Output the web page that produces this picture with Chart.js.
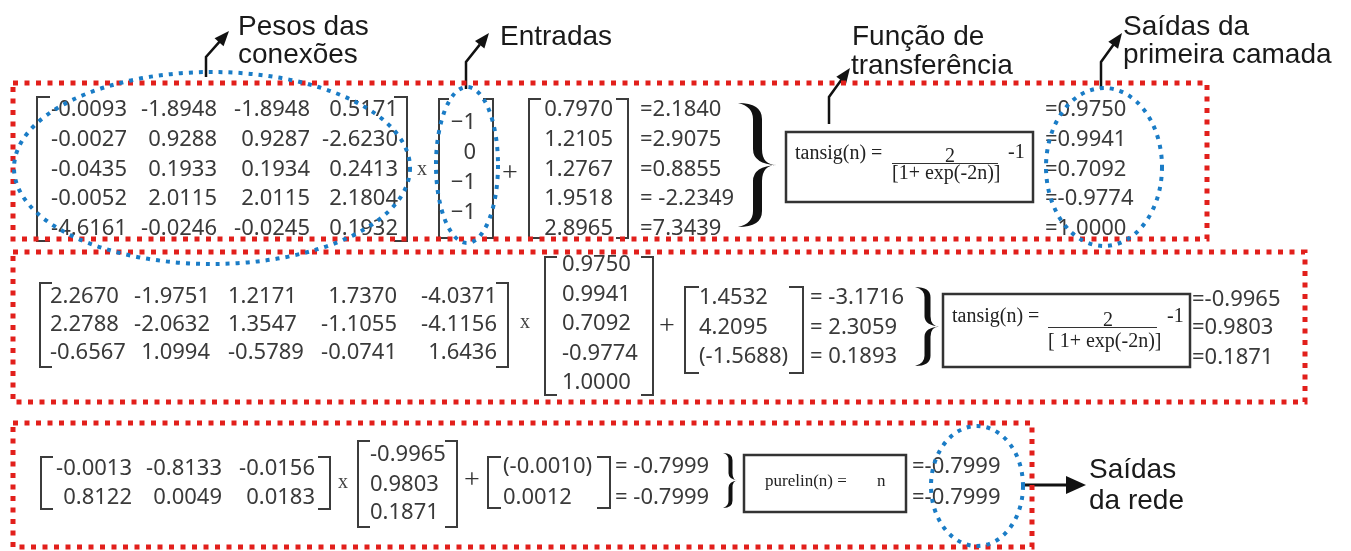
<!DOCTYPE html>
<html>
<head>
<meta charset="utf-8">
<script src="https://cdn.jsdelivr.net/npm/chart.js@4/dist/chart.umd.min.js"></script>
<style>
  html, body { margin: 0; padding: 0; background: #fff; }
  canvas { display: block; }
</style>
</head>
<body>
<canvas id="rede" width="1351" height="551"></canvas>
<script>
// camada 1
const pesos1 = [
  [-0.0093, -1.8948, -1.8948, 0.5171],
  [-0.0027, 0.9288, 0.9287, -2.6230],
  [-0.0435, 0.1933, 0.1934, 0.2413],
  [-0.0052, 2.0115, 2.0115, 2.1804],
  [-4.6161, -0.0246, -0.0245, 0.1932],
];
const entradas = [-1, 0, -1, -1];
const bias1 = [0.7970, 1.2105, 1.2767, 1.9518, 2.8965];
const soma1 = [2.1840, 2.9075, 0.8855, -2.2349, 7.3439];
const saida1 = [0.9750, 0.9941, 0.7092, -0.9774, 1.0000];

// camada 2
const pesos2 = [
  [2.2670, -1.9751, 1.2171, 1.7370, -4.0371],
  [2.2788, -2.0632, 1.3547, -1.1055, -4.1156],
  [-0.6567, 1.0994, -0.5789, -0.0741, 1.6436],
];
const bias2 = [1.4532, 4.2095, -1.5688];
const soma2 = [-3.1716, 2.3059, 0.1893];
const saida2 = [-0.9965, 0.9803, 0.1871];

// camada 3
const pesos3 = [
  [-0.0013, -0.8133, -0.0156],
  [0.8122, 0.0049, 0.0183],
];
const bias3 = [-0.0010, 0.0012];
const soma3 = [-0.7999, -0.7999];
const saida3 = [-0.7999, -0.7999];

const rotulos = [
  { t: "Pesos das", x: 238, y: 35 },
  { t: "conexões", x: 238, y: 63 },
  { t: "Entradas", x: 500, y: 45 },
  { t: "Função de", x: 852, y: 45 },
  { t: "transferência", x: 851, y: 74 },
  { t: "Saídas da", x: 1123, y: 35 },
  { t: "primeira camada", x: 1123, y: 63 },
  { t: "Saídas", x: 1089, y: 478 },
  { t: "da rede", x: 1089, y: 509 },
];

const fmt = (v) => v.toFixed(4);
const NUM_FONT = '22px "Noto Sans"';
const NUM_COLOR = "#3a3a3a";

// positions of rows / columns
const rows1 = [110, 140, 170, 199, 229];
const rows1in = [123, 153, 183, 213];
const rows2 = [297, 325, 353];
const rows2in = [265, 295, 324, 354, 383];
const rows3 = [469, 498];
const rows3in = [455, 485, 513];

const grid = (matrix, cols, rowY) => {
  const pts = [];
  matrix.forEach((row, r) =>
    row.forEach((v, c) => pts.push({ x: cols[c][0], y: rowY[r], t: fmt(v), a: cols[c][1] }))
  );
  return pts;
};
const column = (values, x, rowY, label, align) =>
  values.map((v, i) => ({ x, y: rowY[i], t: label(v), a: align }));

const textSet = (data, font, color) => ({
  data,
  txtFont: font || NUM_FONT,
  txtColor: color || NUM_COLOR,
  pointRadius: 0,
  pointHoverRadius: 0,
});

const paren = (v) => (v < 0 ? "(" + fmt(v) + ")" : fmt(v));

const datasets = [
  textSet(grid(pesos1, [[127, "right"], [217, "right"], [310, "right"], [398, "right"]], rows1)),
  textSet(column(entradas, 476, rows1in, (v) => (v < 0 ? "\u2212" + Math.abs(v) : String(v)), "right")),
  textSet(column(bias1, 613, rows1, fmt, "right")),
  textSet(column(soma1, 640, rows1, (v) => (v < 0 ? "= " : "=") + fmt(v), "left")),
  textSet(column(saida1, 1045, rows1, (v) => "=" + fmt(v), "left")),

  textSet(grid(pesos2, [[50, "left"], [210, "right"], [228, "left"], [397, "right"], [497, "right"]], rows2)),
  textSet(column(saida1, 562, rows2in, fmt, "left")),
  textSet(column(bias2, 699, [298, 328, 357], paren, "left")),
  textSet(column(soma2, 810, [298, 328, 357], (v) => "= " + fmt(v), "left")),
  textSet(column(saida2, 1192, [300, 328, 358], (v) => "=" + fmt(v), "left")),

  textSet(grid(pesos3, [[132, "right"], [222, "right"], [315, "right"]], rows3)),
  textSet(column(saida2, 370, rows3in, fmt, "left")),
  textSet(column(bias3, 503, [467, 498], paren, "left")),
  textSet(column(soma3, 615, [467, 498], (v) => "= " + fmt(v), "left")),
  textSet(column(saida3, 912, [467, 498], (v) => "=" + fmt(v), "left")),

  // sinais x e +
  textSet([
    { x: 422, y: 170, t: "x", a: "center" },
    { x: 525, y: 323, t: "x", a: "center" },
    { x: 343, y: 483, t: "x", a: "center" },
  ], '20px "Liberation Serif"', "#444"),
  textSet([
    { x: 510, y: 174, t: "+", a: "center" },
    { x: 667, y: 327, t: "+", a: "center" },
    { x: 472, y: 481, t: "+", a: "center" },
  ], '28px "Liberation Serif"', "#333"),
];

const drawNet = {
  id: "drawNet",
  afterDatasetsDraw(chart) {
    const ctx = chart.ctx;
    const X = (v) => chart.scales.x.getPixelForValue(v);
    const Y = (v) => chart.scales.y.getPixelForValue(v);

    ctx.save();
    // numbers
    ctx.textBaseline = "middle";
    chart.data.datasets.forEach((ds, i) => {
      const meta = chart.getDatasetMeta(i);
      ctx.font = ds.txtFont;
      ctx.fillStyle = ds.txtColor;
      meta.data.forEach((el, j) => {
        ctx.textAlign = ds.data[j].a || "left";
        ctx.fillText(ds.data[j].t, el.x, el.y);
      });
    });

    // colchetes
    ctx.strokeStyle = "#3c3c3c";
    ctx.lineWidth = 2;
    const bracket = (x, yT, yB, dir, s) => {
      ctx.beginPath();
      ctx.moveTo(X(x + dir * s), Y(yT));
      ctx.lineTo(X(x), Y(yT));
      ctx.lineTo(X(x), Y(yB));
      ctx.lineTo(X(x + dir * s), Y(yB));
      ctx.stroke();
    };
    const pair = (xl, xr, yT, yB, s) => {
      bracket(xl, yT, yB, 1, s);
      bracket(xr, yT, yB, -1, s);
    };
    pair(37, 407, 97, 241, 13);
    pair(439, 493, 99, 238, 10);
    pair(529, 628, 99, 238, 12);
    pair(40, 508, 283, 367, 12);
    pair(545, 653, 257, 395, 12);
    pair(685, 803, 287, 373, 14);
    pair(41, 330, 457, 509, 12);
    pair(358, 457, 441, 527, 12);
    pair(488, 610, 457, 508, 13);

    // chaves
    const brace = (x0, x1, yT, yB, t) => {
      const ym = (yT + yB) / 2;
      const xm = (x0 + x1) / 2;
      const a = (yB - yT) * 0.13;
      ctx.beginPath();
      ctx.moveTo(X(x0), Y(yT));
      ctx.quadraticCurveTo(X(xm + t / 2), Y(yT), X(xm + t / 2), Y(yT + a));
      ctx.lineTo(X(xm + t / 2), Y(ym - a));
      ctx.quadraticCurveTo(X(xm + t / 2), Y(ym), X(x1), Y(ym));
      ctx.quadraticCurveTo(X(xm + t / 2), Y(ym), X(xm + t / 2), Y(ym + a));
      ctx.lineTo(X(xm + t / 2), Y(yB - a));
      ctx.quadraticCurveTo(X(xm + t / 2), Y(yB), X(x0), Y(yB));
      ctx.quadraticCurveTo(X(xm - t / 2), Y(yB - t * 0.4), X(xm - t / 2), Y(yB - a));
      ctx.lineTo(X(xm - t / 2), Y(ym + a));
      ctx.quadraticCurveTo(X(xm - t / 2), Y(ym + 1), X(x1), Y(ym));
      ctx.quadraticCurveTo(X(xm - t / 2), Y(ym - 1), X(xm - t / 2), Y(ym - a));
      ctx.lineTo(X(xm - t / 2), Y(yT + a));
      ctx.quadraticCurveTo(X(xm - t / 2), Y(yT + t * 0.4), X(x0), Y(yT));
      ctx.closePath();
      ctx.fillStyle = "#111";
      ctx.fill();
    };
    brace(738, 777, 103, 227, 9);
    brace(915, 940, 287, 366, 6);
    brace(723, 738, 453, 508, 4);

    // caixas das funções
    ctx.strokeStyle = "#333";
    ctx.lineWidth = 2.5;
    const box = (x0, y0, x1, y1) => ctx.strokeRect(X(x0), Y(y0), X(x1) - X(x0), Y(y1) - Y(y0));
    box(786, 132, 1033, 202);
    box(943, 294, 1190, 367);
    box(744, 455, 906, 512);

    ctx.fillStyle = "#222";
    ctx.textBaseline = "middle";
    ctx.textAlign = "left";
    ctx.font = '20px "Liberation Serif"';
    ctx.fillText("tansig(n) =", X(795), Y(154));
    ctx.fillText("-1", X(1008), Y(153));
    ctx.fillText("[1+ exp(-2n)]", X(892), Y(174));
    ctx.fillText("tansig(n) =", X(952), Y(317));
    ctx.fillText("-1", X(1167), Y(317));
    ctx.fillText("[ 1+ exp(-2n)]", X(1048), Y(342));
    ctx.textAlign = "center";
    ctx.textBaseline = "alphabetic";
    ctx.fillText("2", X(950), Y(162));
    ctx.fillText("2", X(1108), Y(326));
    ctx.lineWidth = 1.2;
    ctx.beginPath();
    ctx.moveTo(X(892), Y(163.5)); ctx.lineTo(X(998), Y(163.5));
    ctx.moveTo(X(1048), Y(327.5)); ctx.lineTo(X(1157), Y(327.5));
    ctx.stroke();
    ctx.textAlign = "left";
    ctx.textBaseline = "middle";
    ctx.font = '17px "Liberation Serif"';
    ctx.fillText("purelin(n) =", X(765), Y(482));
    ctx.fillText("n", X(877), Y(482));

    // rótulos
    ctx.font = '28px "Liberation Sans"';
    ctx.fillStyle = "#1a1a1a";
    ctx.textBaseline = "alphabetic";
    rotulos.forEach((r) => ctx.fillText(r.t, X(r.x), Y(r.y)));

    // setas
    ctx.strokeStyle = "#111";
    ctx.fillStyle = "#111";
    const head = (fx, fy, tx, ty, len, w) => {
      const ang = Math.atan2(Y(ty) - Y(fy), X(tx) - X(fx));
      ctx.beginPath();
      ctx.moveTo(X(tx), Y(ty));
      ctx.lineTo(X(tx) - len * Math.cos(ang) + w * Math.sin(ang), Y(ty) - len * Math.sin(ang) - w * Math.cos(ang));
      ctx.lineTo(X(tx) - len * Math.cos(ang) - w * Math.sin(ang), Y(ty) - len * Math.sin(ang) + w * Math.cos(ang));
      ctx.closePath();
      ctx.fill();
    };
    const pointer = (x, yStart, yBend, tx, ty) => {
      ctx.lineWidth = 2.5;
      ctx.beginPath();
      ctx.moveTo(X(x), Y(yStart));
      ctx.lineTo(X(x), Y(yBend));
      ctx.lineTo(X(x + (tx - x) * 0.6), Y(yBend + (ty - yBend) * 0.6));
      ctx.stroke();
      head(x, yBend, tx, ty, 15, 6);
    };
    pointer(206, 77, 57, 229, 31);
    pointer(466, 89, 62, 489, 33);
    pointer(829, 124, 97, 850, 68);
    pointer(1101, 89, 62, 1122, 33);
    ctx.lineWidth = 3;
    ctx.beginPath();
    ctx.moveTo(X(1022), Y(485));
    ctx.lineTo(X(1070), Y(485));
    ctx.stroke();
    head(1022, 485, 1086, 485, 20, 9);

    // molduras vermelhas
    ctx.strokeStyle = "#e21f1b";
    ctx.lineWidth = 5;
    ctx.setLineDash([5, 6.5]);
    box(13, 83, 1207, 239);
    box(13, 252, 1305, 402);
    box(13, 423, 1032, 547);

    // elipses azuis
    ctx.strokeStyle = "#1a7cc6";
    ctx.lineWidth = 4;
    ctx.setLineDash([4, 6]);
    const ell = (cx, cy, rx, ry) => {
      ctx.beginPath();
      ctx.ellipse(X(cx), Y(cy), X(cx + rx) - X(cx), Y(cy + ry) - Y(cy), 0, 0, Math.PI * 2);
      ctx.stroke();
    };
    ell(212, 168, 198, 96);
    ell(467, 165, 31, 78);
    ell(1104, 167, 58, 79);
    ell(977, 486, 46, 60);
    ctx.restore();
  },
};

new Chart(document.getElementById("rede"), {
  type: "scatter",
  data: { datasets },
  options: {
    responsive: false,
    devicePixelRatio: 1,
    animation: false,
    events: [],
    layout: { padding: 0 },
    plugins: { legend: { display: false }, tooltip: { enabled: false } },
    scales: {
      x: { type: "linear", min: 0, max: 1351, display: false },
      y: { type: "linear", min: 0, max: 551, reverse: true, display: false },
    },
  },
  plugins: [drawNet],
});
</script>
</body>
</html>
